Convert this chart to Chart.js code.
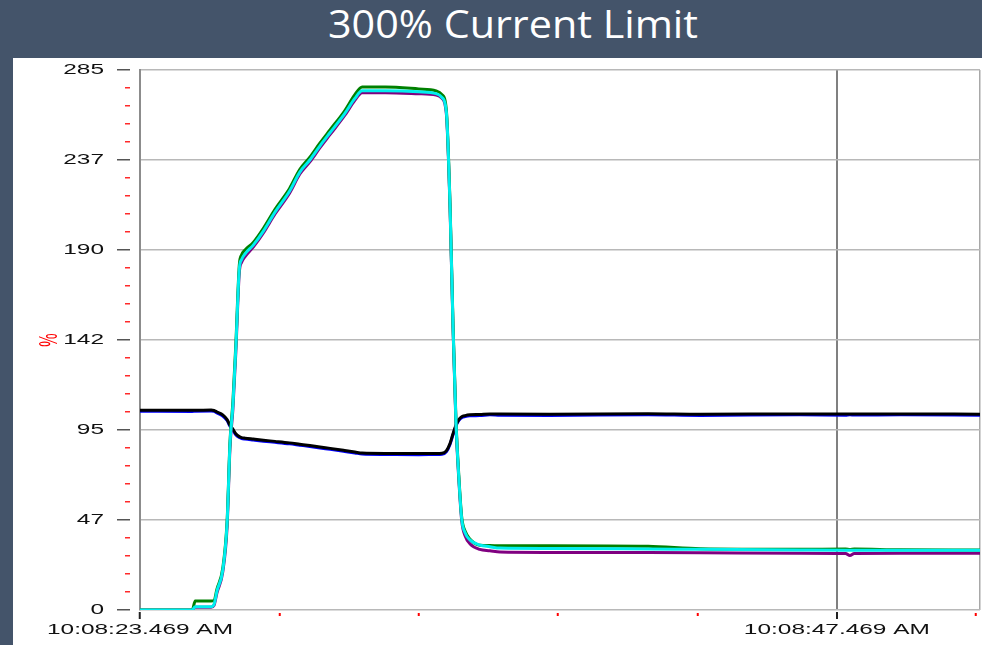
<!DOCTYPE html>
<html><head><meta charset="utf-8">
<script src="https://cdn.jsdelivr.net/npm/chart.js@4.4.1/dist/chart.umd.min.js"></script>
<style>
html,body{margin:0;padding:0;}
body{width:982px;height:645px;background:#44546a;position:relative;overflow:hidden;}
#title{position:absolute;left:513px;top:3px;font-family:'Open Sans','Noto Sans',sans-serif;font-size:39px;line-height:39px;color:#fff;white-space:nowrap;transform-origin:center center;}
#panel{position:absolute;left:13px;top:58px;width:969px;height:587px;background:#fff;}
canvas{display:block;}
</style></head>
<body>
<div id="title">300% Current Limit</div>
<div id="panel"><canvas id="c" width="969" height="587"></canvas></div>
<script>
// ---- data (time in seconds from 10:08:23.469 AM) ----
const times = [0, 1.80, 1.90, 2.45, 2.55, 2.65, 2.85, 3.00, 3.10, 3.20, 3.30, 3.42, 3.50, 3.62, 3.90, 4.25, 4.65, 5.15, 5.50, 5.85, 6.20, 6.55, 7.05, 7.40, 7.65, 8.45, 9.60, 10.20, 10.40, 10.55, 10.68, 10.78, 10.88, 10.98, 11.08, 11.20, 11.36, 11.70, 12.05, 12.40, 14.10, 17.50, 19.30, 22.70, 24.30, 24.45, 24.60, 26.20, 28.93];
const cyanSeries = [0, 0, 1.7, 1.7, 3, 10, 21, 46, 88, 108, 138, 180, 185, 188, 192.6, 200, 210, 221, 231, 237.5, 245, 252, 262, 270, 274, 274, 273.5, 272.5, 270.5, 263, 212, 150, 100, 70, 48, 40.6, 37, 34.3, 33.4, 32.7, 32.5, 32.2, 32.0, 31.7, 31.6, 31.6, 31.6, 31.5, 31.5];
const greenSeries = [0, 0, 4.7, 4.7, 5, 11, 22, 47, 89, 110, 140, 182, 187.5, 190, 194, 201.5, 211.5, 222.5, 232.5, 239, 246.5, 253.5, 263.5, 272, 276, 276, 275, 274, 272, 264, 213, 151, 101, 71, 49, 41.5, 37.5, 34.2, 34.0, 33.9, 33.9, 33.6, 32.3, 32.0, 32.2, 31.9, 32.2, 31.8, 31.7];
const purpleSeries = [0, 0, 1.5, 1.5, 2.5, 9, 20, 44, 86, 106, 136, 178, 183.5, 186.5, 191.5, 199, 209, 220, 230, 236.5, 244, 251, 261, 269, 273, 273, 272.5, 271.8, 270, 262, 211, 149, 99, 69, 47, 39, 35, 32, 31.3, 30.6, 30.4, 30.3, 30.2, 30.0, 29.8, 28.7, 29.8, 29.9, 29.9];
const blackSeries = [105.4, 105.4, 105.4, 105.5, 105.3, 104.5, 103, 100.5, 97.5, 95.5, 93, 91.5, 91, 90.7, 90.2, 89.6, 89, 88.2, 87.5, 86.8, 86, 85.3, 84.2, 83.4, 82.8, 82.6, 82.6, 82.6, 82.7, 84, 88, 93, 97.5, 100.5, 102, 102.6, 103, 103.2, 103.5, 103.4, 103.3, 103.6, 103.3, 103.5, 103.4, 103.5, 103.4, 103.5, 103.3];
const blueSeries = [104.9, 104.8, 104.9, 105.0, 104.8, 104.0, 102.4, 100.0, 97.0, 95.0, 92.4, 91.0, 90.5, 90.2, 89.7, 89.1, 88.5, 87.7, 87.0, 86.3, 85.5, 84.8, 83.7, 82.9, 82.3, 82.1, 82.0, 82.1, 82.2, 83.5, 87.5, 92.5, 97.0, 100.0, 101.5, 102.1, 102.5, 102.6, 103.0, 102.8, 102.7, 103.1, 102.7, 103.0, 102.8, 103.0, 102.9, 103.0, 102.8];

const xMax = 28.93;
const xTickValues = [0, 4.8, 9.6, 14.4, 19.2, 24, 28.8, 28.93];
const xTickLabels = ['10:08:23.469 AM', '', '', '', '', '10:08:47.469 AM', '', ''];
const yTickValues = [0, 9.5, 19, 28.5, 38, 47.5, 57, 66.5, 76, 85.5, 95, 104.5, 114, 123.5, 133, 142.5, 152, 161.5, 171, 180.5, 190, 199.5, 209, 218.5, 228, 237.5, 247, 256.5, 266, 275.5, 285];
const yTickLabels = ['0', '', '', '', '', '47', '', '', '', '', '95', '', '', '', '', '142', '', '', '', '', '190', '', '', '', '', '237', '', '', '', '', '285'];

// ---- title width ----
const titleEl = document.getElementById('title');
function fitTitle() {
  titleEl.style.transform = 'none';
  const w = titleEl.getBoundingClientRect().width;
  titleEl.style.transform = 'translateX(-50%) scaleX(' + (370 / w) + ')';
}
fitTitle();

// ---- horizontally stretched text (the reference image is stretched in x) ----
const canvas = document.getElementById('c');
const ctx = canvas.getContext('2d');
const FONT = '"Liberation Sans", Arial, sans-serif';
ctx.font = '14px ' + FONT;
const STRETCH = 186 / ctx.measureText('10:08:47.469 AM').width;
const origFillText = ctx.fillText;
ctx.fillText = function (text, x, y, maxW) {
  const T = this.getTransform();
  const px = T.a * x + T.c * y + T.e;
  const py = T.b * x + T.d * y + T.f;
  this.save();
  this.setTransform(1, 0, 0, 1, 0, 0);
  this.translate(px, py);
  this.scale(STRETCH, 1);
  this.translate(-px, -py);
  this.transform(T.a, T.b, T.c, T.d, T.e, T.f);
  if (maxW === undefined) origFillText.call(this, text, x, y);
  else origFillText.call(this, text, x, y, maxW);
  this.restore();
};

const pts = arr => times.map((t, i) => ({ x: t, y: arr[i] }));
const lineDs = (data, color, order, width) => ({
  data: pts(data), borderColor: color, borderWidth: width, pointRadius: 0,
  cubicInterpolationMode: 'monotone', fill: false, order: order
});
const noPad = s => { s.paddingTop = 0; s.paddingBottom = 0; s.paddingLeft = 0; s.paddingRight = 0; };

new Chart(ctx, {
  type: 'line',
  data: {
    datasets: [
      lineDs(cyanSeries, '#00eeee', 0, 3),
      lineDs(greenSeries, '#008000', 1, 3),
      lineDs(purpleSeries, '#800080', 2, 3),
      lineDs(blackSeries, '#000000', 3, 3),
      lineDs(blueSeries, '#0000ff', 4, 3)
    ]
  },
  options: {
    responsive: false, animation: false, devicePixelRatio: 1, events: [],
    layout: { padding: { top: 12, right: 2, left: 0, bottom: 0 } },
    plugins: { legend: { display: false }, tooltip: { enabled: false }, title: { display: false } },
    scales: {
      x: {
        type: 'linear', min: 0, max: xMax,
        afterBuildTicks: s => { s.ticks = xTickValues.map(v => ({ value: v })); },
        afterFit: s => { s.height = 35; noPad(s); },
        border: { display: false },
        grid: {
          color: c => c.index === 5 ? '#808080' : (c.index === 7 ? '#a8a8a8' : 'rgba(0,0,0,0)'),
          lineWidth: c => c.index === 5 ? 2 : 1.5,
          tickColor: c => (c.index === 0 || c.index === 5) ? '#222' : (c.index === 7 ? 'rgba(0,0,0,0)' : '#ff0000'),
          tickWidth: 2,
          tickLength: 9,
          tickBorderDash: c => (c.index === 0 || c.index === 5) ? [0, 2, 7, 100] : [0, 3, 3, 100]
        },
        ticks: {
          autoSkip: false, maxRotation: 0, minRotation: 0, padding: 3, color: '#111',
          font: { family: FONT, size: 14 },
          callback: (v, i) => xTickLabels[i] || ''
        }
      },
      y: {
        min: 0, max: 285,
        afterBuildTicks: s => { s.ticks = yTickValues.map(v => ({ value: v })); },
        afterFit: s => { s.width = 127; noPad(s); },
        border: { display: true, color: '#8c8c8c', width: 2 },
        grid: {
          color: c => c.index % 5 === 0 ? '#b8b8b8' : 'rgba(0,0,0,0)',
          lineWidth: 1.5,
          tickColor: c => c.index % 5 === 0 ? '#555' : '#ff2a2a',
          tickWidth: 1.5,
          tickLength: 24,
          tickBorderDash: c => c.index % 5 === 0 ? [0, 1, 13, 100] : [0, 9, 5, 100]
        },
        ticks: {
          autoSkip: false, padding: 12, color: '#111',
          font: { family: FONT, size: 14 },
          callback: (v, i) => yTickLabels[i] || ''
        },
        title: { display: true, text: '%', color: '#ff0000', font: { family: FONT, size: 15 }, padding: { top: 28, bottom: 0 } }
      }
    }
  }
});
</script>
</body></html>
